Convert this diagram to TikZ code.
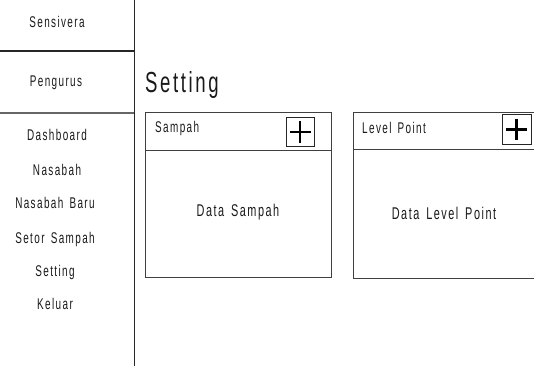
\documentclass[tikz,border=0pt]{standalone}
\usepackage{fontspec}
\usetikzlibrary{calc}
\setmainfont[FakeStretch=0.64,LetterSpace=9,WordSpace=1.5]{Liberation Sans}
\begin{document}
\begin{tikzpicture}[x=1pt,y=-1pt,
  menu/.style={font=\fontsize{15.5}{15.5}\selectfont,text=black!90,inner sep=0pt},
  data/.style={font=\fontsize{17}{17}\selectfont,text=black!90,inner sep=0pt},
  panel/.style={draw=black!75,line width=0.9pt},
  plusbox/.style={draw=black!85,line width=1pt,minimum width=28pt,minimum height=28pt,inner sep=0pt},
  plusbar/.style={line width=2.4pt,black}]
\useasboundingbox (0,0) rectangle (534,366);
% sidebar
\draw[black!85,line width=1pt] (134,0) -- (134,366);
\draw[black!85,line width=1.2pt] (0,51) -- (134,51);
\draw[black!60,line width=1.2pt] (0,113) -- (134,113);
\node[menu] (sens) at (57,22) {Sensivera};
\node[menu] (peng) at (56,83) {Pengurus};
\node[menu] (m1) at (57,135) {Dashboard};
\node[menu] (m2) at (57,170) {Nasabah};
\node[menu] (m3) at (55,203) {Nasabah Baru};
\node[menu] (m4) at (55,239) {Setor Sampah};
\node[menu] (m5) at (55,272) {Setting};
\node[menu] (m6) at (55,304) {Keluar};
% heading
\node[font=\fontsize{29}{29}\selectfont,text=black!90,inner sep=0pt,anchor=west] (head) at (145,85) {Setting};
% panel 1
\draw[panel] (145,112) rectangle (331,277);
\draw[panel] (145,150) -- (331,150);
\node[menu,anchor=west] (p1t) at (155,128) {Sampah};
\node[plusbox] (p1b) at (300,132) {};
\draw[plusbar] ($(p1b.center)+(-10.5,0)$) -- ($(p1b.center)+(10.5,0)$);
\draw[plusbar] ($(p1b.center)+(0,-10.5)$) -- ($(p1b.center)+(0,10.5)$);
\node[data] (p1d) at (238,212) {Data Sampah};
% panel 2
\draw[panel] (534.5,112) -- (353,112) -- (353,278) -- (534.5,278);
\draw[panel] (353,149) -- (534.5,149);
\node[menu,anchor=west] (p2t) at (362,128) {Level Point};
\node[plusbox,minimum width=29pt,minimum height=29pt] (p2b) at (516.5,129.5) {};
\draw[plusbar] ($(p2b.center)+(-10.5,0)$) -- ($(p2b.center)+(10.5,0)$);
\draw[plusbar] ($(p2b.center)+(0,-10.5)$) -- ($(p2b.center)+(0,10.5)$);
\node[data] (p2d) at (444,213) {Data Level Point};
\end{tikzpicture}
\end{document}
